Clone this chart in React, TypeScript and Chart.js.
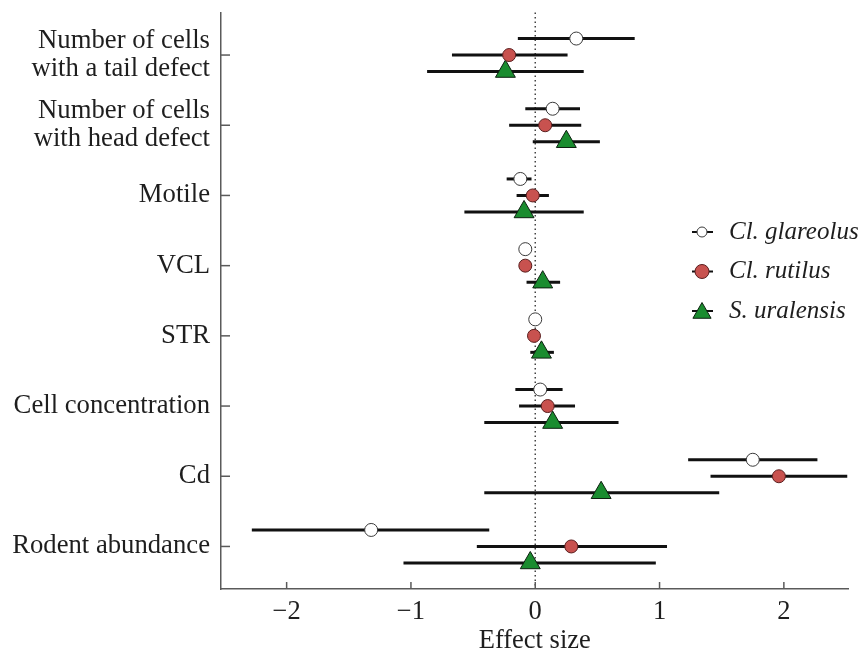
import React, { useEffect, useRef } from 'react';
import { Chart, registerables } from 'chart.js';

Chart.register(...registerables);

// ---------- data ----------
const categories: (string | string[])[] = [
  ['Number of cells', 'with a tail defect'],
  ['Number of cells', 'with head defect'],
  'Motile',
  'VCL',
  'STR',
  'Cell concentration',
  'Cd',
  'Rodent abundance',
];
const xTickValues = [-2, -1, 0, 1, 2];
const seriesNames = ['Cl. glareolus', 'Cl. rutilus', 'S. uralensis'];

const glareolusMean = [0.33, 0.14, -0.12, -0.08, 0.0, 0.04, 1.75, -1.32];
const glareolusLow = [-0.14, -0.08, -0.23, -0.12, -0.04, -0.16, 1.23, -2.28];
const glareolusHigh = [0.80, 0.36, -0.03, -0.04, 0.04, 0.22, 2.27, -0.37];

const rutilusMean = [-0.21, 0.08, -0.02, -0.08, -0.01, 0.10, 1.96, 0.29];
const rutilusLow = [-0.67, -0.21, -0.15, -0.12, -0.05, -0.13, 1.41, -0.47];
const rutilusHigh = [0.26, 0.37, 0.11, -0.03, 0.03, 0.32, 2.51, 1.06];

const uralensisMean = [-0.24, 0.25, -0.09, 0.06, 0.05, 0.14, 0.53, -0.04];
const uralensisLow = [-0.87, -0.02, -0.57, -0.07, -0.04, -0.41, -0.41, -1.06];
const uralensisHigh = [0.39, 0.52, 0.39, 0.20, 0.15, 0.67, 1.48, 0.97];

// ---------- styling ----------
const FONT_FAMILY = "'Liberation Serif', 'Times New Roman', 'DejaVu Serif', serif";
const TEXT_COLOR = '#1e1e1e';
const AXIS_COLOR = '#5a5a5a';
const SERIES_OFFSETS = [0.235, 0, -0.235];
const SERIES_STYLES = [
  { pointStyle: 'circle', radius: 6.5, fill: '#ffffff', stroke: '#3a3a3a', legendRadius: 5 },
  { pointStyle: 'circle', radius: 6.5, fill: '#c8524f', stroke: '#5a1e1e', legendRadius: 7 },
  { pointStyle: 'triangle', radius: 11.5, fill: '#1a8c2f', stroke: '#0d2010', legendRadius: 10.5 },
];

const means = [glareolusMean, rutilusMean, uralensisMean];
const lows = [glareolusLow, rutilusLow, uralensisLow];
const highs = [glareolusHigh, rutilusHigh, uralensisHigh];

const catPos = (i: number) => categories.length - 1 - i;

function drawMarker(ctx: CanvasRenderingContext2D, style: string, x: number, y: number, r: number, fill: string, stroke: string) {
  ctx.save();
  ctx.beginPath();
  if (style === 'triangle') {
    let rad = 0;
    ctx.moveTo(x + Math.sin(rad) * r, y - Math.cos(rad) * r);
    rad += (2 * Math.PI) / 3;
    ctx.lineTo(x + Math.sin(rad) * r, y - Math.cos(rad) * r);
    rad += (2 * Math.PI) / 3;
    ctx.lineTo(x + Math.sin(rad) * r, y - Math.cos(rad) * r);
    ctx.closePath();
  } else {
    ctx.arc(x, y, r, 0, Math.PI * 2);
  }
  ctx.fillStyle = fill;
  ctx.fill();
  ctx.lineWidth = 1;
  ctx.strokeStyle = stroke;
  ctx.stroke();
  ctx.restore();
}

const forestPlugin = {
  id: 'forestPlugin',
  beforeDatasetsDraw(chart: any) {
    const { ctx, chartArea, scales } = chart;
    const xs = scales.x;
    const ys = scales.y;
    ctx.save();
    // zero reference line
    const x0 = xs.getPixelForValue(0);
    ctx.beginPath();
    ctx.setLineDash([1.5, 3]);
    ctx.strokeStyle = '#444';
    ctx.lineWidth = 1.5;
    ctx.moveTo(x0, chartArea.top);
    ctx.lineTo(x0, chartArea.bottom);
    ctx.stroke();
    ctx.setLineDash([]);
    // inward tick marks
    ctx.strokeStyle = AXIS_COLOR;
    ctx.lineWidth = 1.5;
    ys.ticks.forEach((t: any) => {
      const y = ys.getPixelForValue(t.value);
      ctx.beginPath();
      ctx.moveTo(chartArea.left, y);
      ctx.lineTo(chartArea.left + 9, y);
      ctx.stroke();
    });
    xs.ticks.forEach((t: any) => {
      const x = xs.getPixelForValue(t.value);
      ctx.beginPath();
      ctx.moveTo(x, chartArea.bottom);
      ctx.lineTo(x, chartArea.bottom - 7);
      ctx.stroke();
    });
    // error bars
    ctx.strokeStyle = '#111';
    ctx.lineWidth = 3;
    ctx.lineCap = 'butt';
    chart.data.datasets.forEach((ds: any) => {
      ds.data.forEach((p: any) => {
        const y = ys.getPixelForValue(p.y);
        ctx.beginPath();
        ctx.moveTo(xs.getPixelForValue(p.lo), y);
        ctx.lineTo(xs.getPixelForValue(p.hi), y);
        ctx.stroke();
      });
    });
    ctx.restore();
  },
  afterDraw(chart: any) {
    const { ctx } = chart;
    const lx = 702;
    const ly0 = 232;
    const dy = 39.5;
    ctx.save();
    seriesNames.forEach((name, k) => {
      const y = ly0 + k * dy;
      const st = SERIES_STYLES[k];
      ctx.beginPath();
      ctx.strokeStyle = '#111';
      ctx.lineWidth = 2;
      ctx.moveTo(lx - 10, y);
      ctx.lineTo(lx + 11, y);
      ctx.stroke();
      drawMarker(ctx, st.pointStyle, lx, st.pointStyle === 'triangle' ? y + 2 : y, st.legendRadius, st.fill, st.stroke);
      ctx.fillStyle = TEXT_COLOR;
      ctx.font = `italic 25px ${FONT_FAMILY}`;
      ctx.textAlign = 'left';
      ctx.textBaseline = 'middle';
      ctx.fillText(name, lx + 27, y);
    });
    ctx.restore();
  },
};

export default function App() {
  const canvasRef = useRef<HTMLCanvasElement | null>(null);

  useEffect(() => {
    if (!canvasRef.current) return;
    const datasets = seriesNames.map((name, k) => ({
      type: 'scatter' as const,
      label: name,
      data: categories.map((_, i) => ({
        x: means[k][i],
        y: catPos(i) + SERIES_OFFSETS[k],
        lo: lows[k][i],
        hi: highs[k][i],
      })),
      pointStyle: SERIES_STYLES[k].pointStyle,
      pointRadius: SERIES_STYLES[k].radius,
      pointHoverRadius: SERIES_STYLES[k].radius,
      backgroundColor: SERIES_STYLES[k].fill,
      borderColor: SERIES_STYLES[k].stroke,
      borderWidth: 1,
      clip: false as any,
    }));

    const chart = new Chart(canvasRef.current, {
      type: 'scatter',
      data: { datasets },
      options: {
        animation: false,
        responsive: false,
        devicePixelRatio: 1,
        events: [],
        layout: { padding: { top: 12, right: 9, left: 0, bottom: 0 } },
        plugins: { legend: { display: false }, tooltip: { enabled: false } },
        scales: {
          x: {
            type: 'linear',
            min: -2.528,
            max: 2.52,
            afterBuildTicks: (s: any) => {
              s.ticks = xTickValues.map((v) => ({ value: v }));
            },
            afterFit: (s: any) => {
              s.height = 65;
              s.paddingLeft = 0;
              s.paddingRight = 0;
            },
            grid: { display: false, drawTicks: false },
            border: { display: true, color: AXIS_COLOR, width: 1.5 },
            ticks: {
              padding: 7,
              color: TEXT_COLOR,
              font: { family: FONT_FAMILY, size: 26.5 },
              maxRotation: 0,
              callback: (v: any) => (Number(v) < 0 ? '\u2212' + Math.abs(Number(v)) : String(v)),
            },
            title: {
              display: true,
              text: 'Effect size',
              color: TEXT_COLOR,
              font: { family: FONT_FAMILY, size: 26.5, lineHeight: 1.0 },
              padding: 0,
            },
          },
          y: {
            type: 'linear',
            min: -0.606,
            max: 7.606,
            afterBuildTicks: (s: any) => {
              s.ticks = categories.map((_, i) => ({ value: i }));
            },
            afterFit: (s: any) => {
              s.width = 221;
              s.paddingTop = 0;
              s.paddingBottom = 0;
            },
            grid: { display: false, drawTicks: false },
            border: { display: true, color: AXIS_COLOR, width: 1.5 },
            ticks: {
              padding: 11,
              color: TEXT_COLOR,
              font: { family: FONT_FAMILY, size: 26.7, lineHeight: 1.05 },
              callback: (v: any) => categories[categories.length - 1 - Number(v)] as any,
            },
          },
        },
      },
      plugins: [forestPlugin],
    } as any);

    return () => chart.destroy();
  }, []);

  return (
    <div style={{ position: 'fixed', left: 0, top: 0, width: 861, height: 654, background: '#fff' }}>
      <canvas ref={canvasRef} width={861} height={654} style={{ display: 'block' }} />
    </div>
  );
}
